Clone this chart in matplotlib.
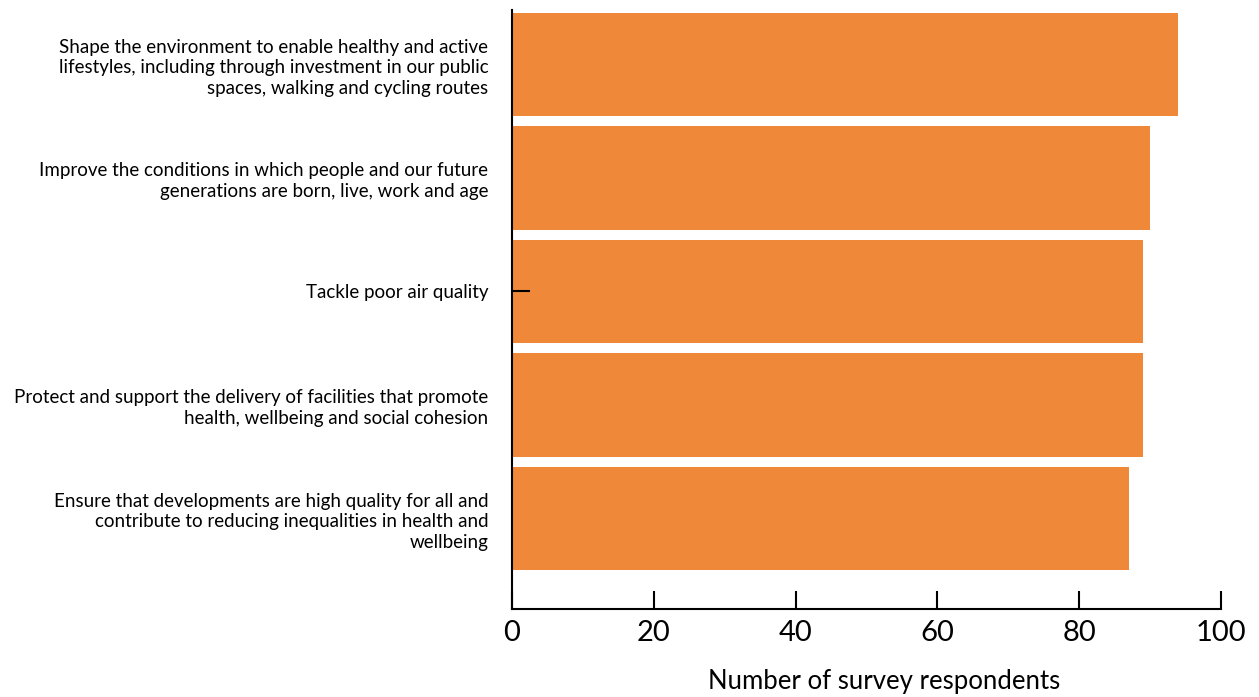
import matplotlib
matplotlib.use('Agg')
import matplotlib.pyplot as plt

plt.rcParams['font.family'] = ['Lato', 'DejaVu Sans']

# survey priorities, top to bottom
priorities = [
    'Shape the environment to enable healthy and active\n'
    'lifestyles, including through investment in our public\n'
    'spaces, walking and cycling routes',
    'Improve the conditions in which people and our future\n'
    'generations are born, live, work and age',
    'Tackle poor air quality',
    'Protect and support the delivery of facilities that promote\n'
    'health, wellbeing and social cohesion',
    'Ensure that developments are high quality for all and\n'
    'contribute to reducing inequalities in health and\n'
    'wellbeing',
]
respondents = [94, 90, 89, 89, 87]
x_ticks = [0, 20, 40, 60, 80, 100]

fig = plt.figure(figsize=(12.59, 6.97), dpi=100)
ax = fig.add_axes([0.4067, 0.1263, 0.5631, 0.8594])

positions = list(range(len(priorities)))
ax.barh(positions, respondents, height=0.91, color='#EF8839')

ax.set_xlim(0, 100)
ax.set_ylim(4.797, -0.48)
ax.set_xticks(x_ticks)
ax.set_xticklabels([str(t) for t in x_ticks], fontsize=21)
ax.tick_params(axis='x', direction='in', length=13, width=1.5, pad=8)

ax.set_yticks(positions)
ax.set_yticklabels(priorities, fontsize=13.5, linespacing=1.25)
ax.tick_params(axis='y', which='major', length=0, pad=17)
# single inward tick on the left spine
ax.yaxis.remove_overlapping_locs = False
ax.set_yticks([2], minor=True)
ax.tick_params(axis='y', which='minor', direction='in', length=13, width=1.5)

for side in ['top', 'right']:
    ax.spines[side].set_visible(False)
for side in ['left', 'bottom']:
    ax.spines[side].set_linewidth(1.5)

ax.set_xlabel('Number of survey respondents', fontsize=18.5)
ax.xaxis.set_label_coords(0.525, -0.1)

fig.savefig('out.png', dpi=100)
